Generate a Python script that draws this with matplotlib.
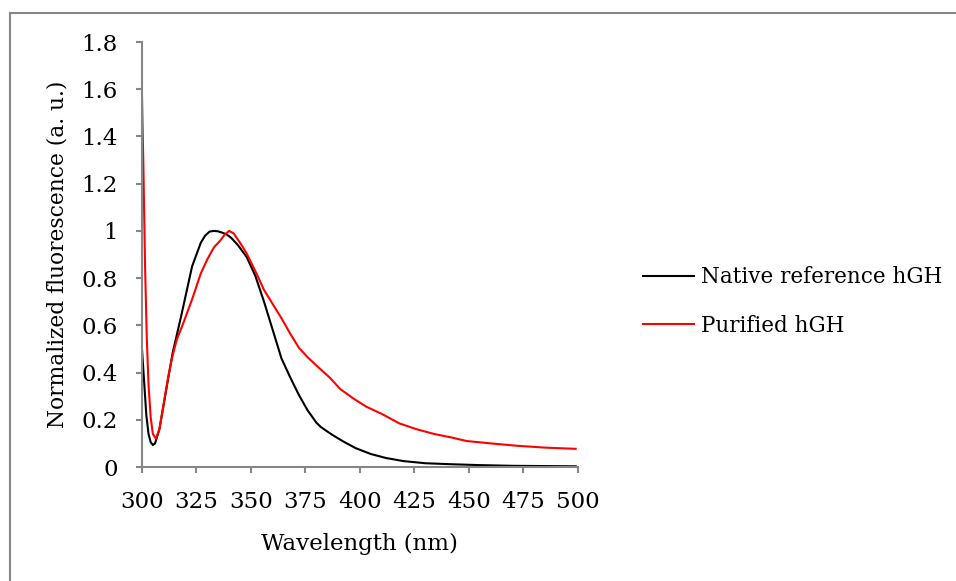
import matplotlib
matplotlib.use("Agg")
import matplotlib.pyplot as plt
from matplotlib.lines import Line2D

# values
native_wl = [300, 301, 302, 303, 304, 305, 306, 308, 311, 314, 318, 323, 327, 329, 331, 333,
             335, 337, 339, 341, 344, 348, 352, 356, 360, 364, 368, 372, 376, 380, 382, 384,
             387, 392, 398, 405, 412, 420, 430, 441, 455, 470, 485, 499]
native_val = [0.50, 0.36, 0.22, 0.14, 0.105, 0.093, 0.10, 0.16, 0.32, 0.48, 0.64, 0.85, 0.95,
              0.98, 0.997, 1.00, 0.998, 0.992, 0.984, 0.97, 0.94, 0.89, 0.81, 0.70, 0.58,
              0.46, 0.38, 0.305, 0.24, 0.188, 0.17, 0.157, 0.138, 0.11, 0.08, 0.055, 0.038,
              0.025, 0.016, 0.012, 0.008, 0.005, 0.004, 0.003]

purified_wl = [300, 300.7, 301.4, 302.2, 303, 304, 305, 306.4, 308, 310, 312, 314, 316, 319,
               323, 327, 330, 333, 336, 338, 340, 342, 345, 348, 352, 356, 360, 364, 368, 372,
               376, 380, 386, 391, 397, 403, 410, 418, 426, 434, 442, 449, 460, 472, 485, 499]
purified_val = [1.575, 1.25, 0.86, 0.55, 0.35, 0.21, 0.14, 0.12, 0.16, 0.27, 0.38, 0.47,
                0.54, 0.61, 0.71, 0.82, 0.88, 0.93, 0.96, 0.985, 1.00, 0.99, 0.95, 0.905,
                0.83, 0.75, 0.69, 0.63, 0.565, 0.505, 0.465, 0.43, 0.38, 0.33, 0.29, 0.255,
                0.225, 0.185, 0.16, 0.14, 0.125, 0.11, 0.10, 0.09, 0.082, 0.077]

x_ticks = [300, 325, 350, 375, 400, 425, 450, 475, 500]
y_ticks = [0, 0.2, 0.4, 0.6, 0.8, 1, 1.2, 1.4, 1.6, 1.8]
y_labels = ["0", "0.2", "0.4", "0.6", "0.8", "1", "1.2", "1.4", "1.6", "1.8"]

plt.rcParams['font.family'] = ['DejaVu Serif']
grey = "#868686"

fig = plt.figure(figsize=(9.56, 5.81), dpi=100)
ax = fig.add_axes([0.1485, 0.1962, 0.456, 0.7315])

ax.plot(native_wl, native_val, color="black", lw=1.5, label="Native reference hGH")
ax.plot(purified_wl, purified_val, color="#ff0000", lw=1.5, label="Purified hGH")

ax.set_xlim(300, 500)
ax.set_ylim(0, 1.8)
ax.set_xticks(x_ticks)
ax.set_yticks(y_ticks)
ax.set_yticklabels(y_labels)
ax.tick_params(axis="both", direction="out", length=4.5, width=1.5, color=grey,
               labelsize=16.5, pad=13)

for s in ["top", "right"]:
    ax.spines[s].set_visible(False)
for s in ["left", "bottom"]:
    ax.spines[s].set_color(grey)
    ax.spines[s].set_linewidth(1.5)

ax.set_xlabel("Wavelength (nm)", fontsize=16.5, labelpad=14)
ax.set_ylabel("Normalized fluorescence (a. u.)", fontsize=15.7, labelpad=9)

ax.legend(loc="center left", bbox_to_anchor=(0.652, 1 - 301.5 / 581),
          bbox_transform=fig.transFigure, frameon=False, fontsize=15.5,
          handlelength=2.37, handletextpad=0.33, labelspacing=1.23)

# outer chart border (cut off at right and bottom)
fig.add_artist(Line2D([10 / 956, 10 / 956], [0, 1 - 13 / 581], color=grey, lw=1.5,
                      transform=fig.transFigure))
fig.add_artist(Line2D([10 / 956, 1], [1 - 13 / 581, 1 - 13 / 581], color=grey, lw=1.5,
                      transform=fig.transFigure))

fig.savefig("out.png", dpi=100)
